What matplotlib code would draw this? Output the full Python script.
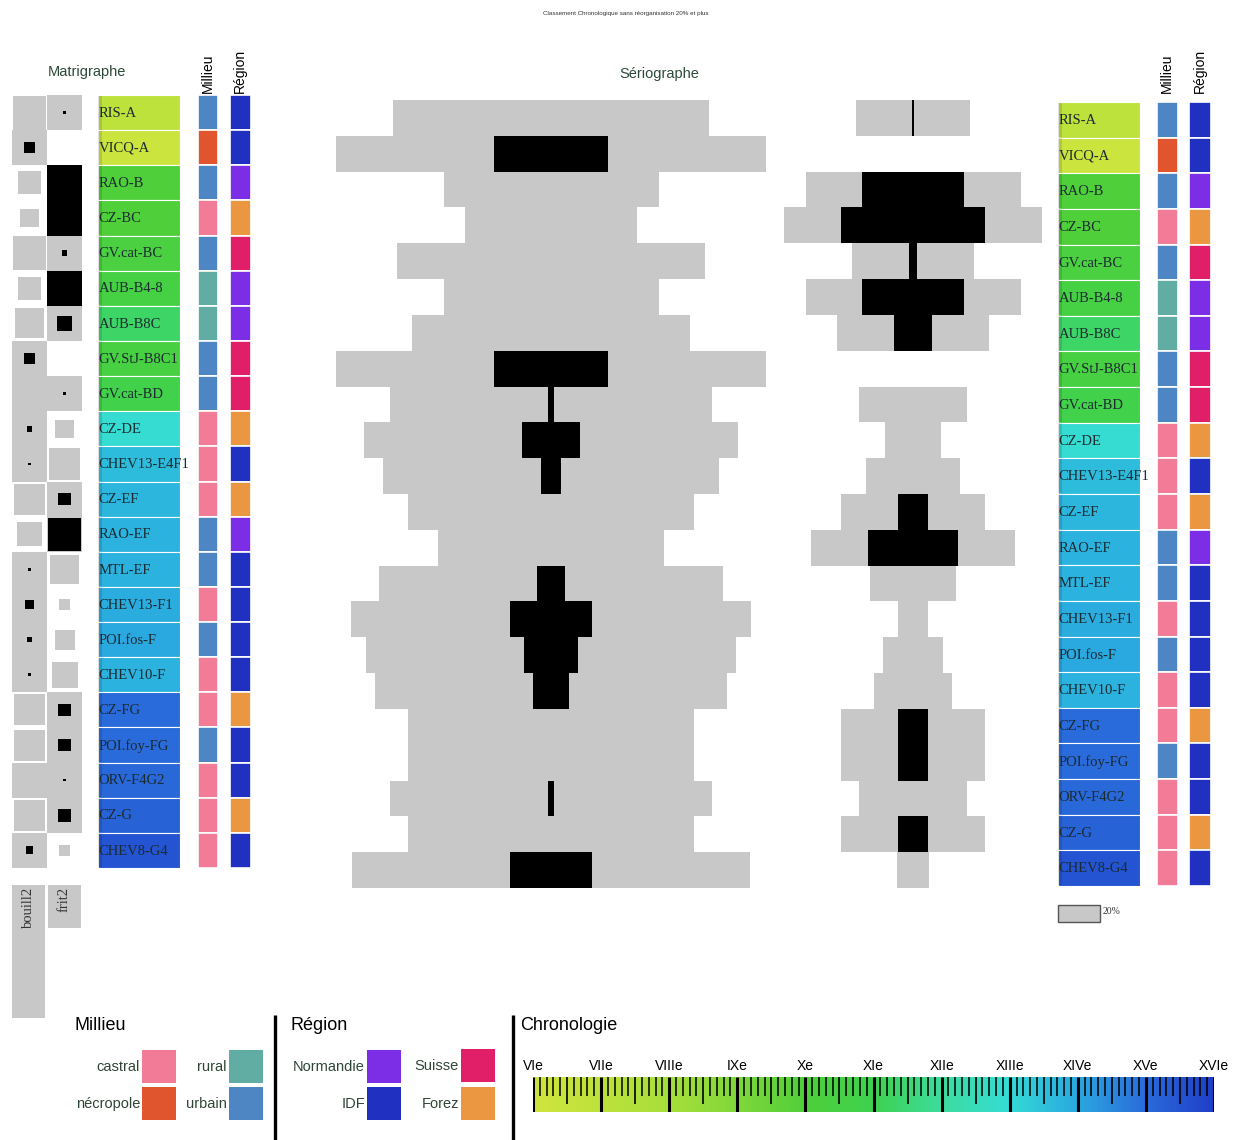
import numpy as np
import matplotlib.pyplot as plt
from matplotlib.patches import Rectangle
from matplotlib.colors import LinearSegmentedColormap, Normalize

# ---- data ----
ensembles = ["RIS-A", "VICQ-A", "RAO-B", "CZ-BC", "GV.cat-BC", "AUB-B4-8", "AUB-B8C",
             "GV.StJ-B8C1", "GV.cat-BD", "CZ-DE", "CHEV13-E4F1", "CZ-EF", "RAO-EF",
             "MTL-EF", "CHEV13-F1", "POI.fos-F", "CHEV10-F", "CZ-FG", "POI.foy-FG",
             "ORV-F4G2", "CZ-G", "CHEV8-G4"]
types = ["bouill2", "frit2"]

# pourcentages par ensemble
bouill2 = [73.3, 100, 50, 40, 71.6, 50, 64.7, 100, 75, 87.2, 78, 66.7, 52.4,
           80, 92.8, 86, 81.8, 66.7, 66.7, 75, 66.7, 92.6]
frit2 = [26.7, 0, 50, 60, 28.4, 50, 35.3, 0, 25, 12.8, 22, 33.3, 47.6,
         20, 7.2, 14, 18.2, 33.3, 33.3, 25, 33.3, 7.4]

# moyennes ponderees (matrigraphe)
ref_matrix = [75.5, 24.5]

milieu = ["urbain", "nécropole", "urbain", "castral", "urbain", "rural", "rural",
          "urbain", "urbain", "castral", "castral", "castral", "urbain", "urbain",
          "castral", "urbain", "castral", "castral", "urbain", "castral", "castral", "castral"]
region = ["IDF", "IDF", "Normandie", "Forez", "Suisse", "Normandie", "Normandie",
          "Suisse", "Suisse", "Forez", "IDF", "Forez", "Normandie", "IDF", "IDF",
          "IDF", "IDF", "Forez", "IDF", "IDF", "Forez", "IDF"]

# datation (siecle) de chaque ensemble
datation = [7.0, 6.2, 10.0, 10.0, 10.3, 10.5, 11.3, 10.4, 10.8, 12.9, 13.6, 13.7,
            13.8, 13.8, 13.9, 14.0, 13.8, 15.0, 15.0, 15.1, 15.2, 15.5]

milieu_colors = {"castral": "#f27c98", "nécropole": "#e0552e",
                 "rural": "#62ada3", "urbain": "#4d86c3"}
region_colors = {"Normandie": "#7b2ee6", "Suisse": "#e01f68",
                 "IDF": "#2030c0", "Forez": "#eb9641"}

siecles = ["VIe", "VIIe", "VIIIe", "IXe", "Xe", "XIe", "XIIe", "XIIIe", "XIVe", "XVe", "XVIe"]
chrono_pos = [6, 7, 8, 9, 10, 11, 12, 13, 14, 15, 16]
chrono_col = ['#cfe53e', '#bde23c', '#a6df3a', '#80d83a', '#4fcf3a', '#3ed250',
              '#3ddc9e', '#35dcd6', '#2aa8e0', '#2a6cdb', '#1f3fc8']

title = "Classement Chronologique sans réorganisation 20% et plus"

# ---- setup ----
W, H = 1237, 1140
fig = plt.figure(figsize=(W / 100, H / 100), dpi=100)
fig.patch.set_facecolor("white")

cmap = LinearSegmentedColormap.from_list(
    "chrono", [((p - 6) / 10, c) for p, c in zip(chrono_pos, chrono_col)])
norm = Normalize(6, 16)

SANS = "Liberation Sans"
SERIF = "Liberation Serif"
GRAY = "#c8c8c8"
n = len(ensembles)
rows = np.arange(n)


def px_axes(x0, y0, x1, y1):
    ax = fig.add_axes([x0 / W, 1 - y1 / H, (x1 - x0) / W, (y1 - y0) / H])
    ax.set_facecolor("none")
    ax.axis("off")
    return ax


bg = px_axes(0, 0, W, H)
bg.set_xlim(0, W)
bg.set_ylim(H, 0)

bg.text(626, 14, title, fontsize=4.5, ha="center", va="center", family=SANS, color="#333")
bg.text(87, 72, "Matrigraphe", fontsize=10.5, ha="center", va="center", family=SANS, color="#2e4a3a")
bg.text(659, 74, "Sériographe", fontsize=10.5, ha="center", va="center", family=SANS, color="#2e4a3a")
for x, lab in [(208, "Millieu"), (240, "Région"), (1167, "Millieu"), (1200, "Région")]:
    bg.text(x, 93, lab, fontsize=10, rotation=90, ha="center", va="bottom", family=SANS, color="black")

# ---- matrigraphe ----
mat = px_axes(12, 95, 82, 868)
mat.set_xlim(0, 2)
mat.set_ylim(n, 0)
values = [bouill2, frit2]
for j in range(2):
    for i in rows:
        r = values[j][i] / ref_matrix[j]
        if r >= 1:
            mat.add_patch(Rectangle((j, i), 1, 1, color=GRAY, lw=0))
            s = min(r - 1, 1)
            s = max(s, 0.07)
            mat.add_patch(Rectangle((j + (1 - s) / 2, i + (1 - s) / 2), s, s, color="black", lw=0))
        elif r > 0:
            mat.add_patch(Rectangle((j + (1 - r) / 2, i + (1 - r) / 2), r, r, color=GRAY, lw=0))

mass = px_axes(12, 885, 82, 1018)
mass.set_xlim(0, 2)
mass.set_ylim(max(ref_matrix), 0)
mass.bar([0.48, 1.5], ref_matrix, width=[0.94, 0.97], color=GRAY)
for k, t in enumerate(types):
    mass.text([0.48, 1.5][k], 1.0, t, rotation=90, ha="center", va="top",
              family=SERIF, fontsize=10.5, color="#333")


# ---- etiquettes ----
def label_panel(x0, y0, x1, y1):
    ax = px_axes(x0, y0, x1, y1)
    ax.set_xlim(0, 1)
    ax.set_ylim(n, 0)
    ax.barh(rows + 0.5, 1, height=1, color=cmap(norm(np.array(datation))),
            edgecolor="white", linewidth=0.8)
    ax.barh(rows + 0.5, 0.05, height=0.97, color="black", alpha=0.12, lw=0)
    for i, name in enumerate(ensembles):
        ax.text(0.01, i + 0.52, name, ha="left", va="center", family=SERIF,
                fontsize=10.5, color="#1c2b30", clip_on=False)


def code_panel(x0, y0, x1, y1, keys, colors):
    ax = px_axes(x0, y0, x1, y1)
    ax.set_xlim(0, 1)
    ax.set_ylim(n, 0)
    ax.barh(rows + 0.5, 1, height=1, color=[colors[k] for k in keys],
            edgecolor="white", linewidth=1.2)


label_panel(98, 95, 180, 868)
code_panel(198, 95, 218, 868, milieu, milieu_colors)
code_panel(230, 95, 251, 868, region, region_colors)

label_panel(1058, 102, 1140, 886)
code_panel(1157, 102, 1178, 886, milieu, milieu_colors)
code_panel(1189, 102, 1211, 886, region, region_colors)

# ---- seriographe ----
PX = 4.3  # pixels par %
ser = px_axes(320, 100, 1045, 888)
ser.set_xlim((320 - 551) / PX, (1045 - 551) / PX)
ser.set_ylim(n, 0)
centers = [0, (913 - 551) / PX]
for j in range(2):
    v = np.array(values[j])
    eppm = np.clip(v - v.mean(), 0, None)
    shown = np.where(eppm > 0, np.maximum(eppm, 0.6), 0)
    ser.barh(rows + 0.5, v, left=centers[j] - v / 2, height=1, color=GRAY, lw=0)
    ser.barh(rows + 0.5, shown, left=centers[j] - shown / 2, height=1, color="black", lw=0)

bg.add_patch(Rectangle((1058, 905), 42, 17, facecolor=GRAY, edgecolor="#555", lw=1))
bg.text(1103, 912, "20%", fontsize=7, family=SERIF, va="center", ha="left", color="#333")

# ---- legende ----
bg.text(75, 1026, "Millieu", fontsize=13, family=SANS, va="center", ha="left")
bg.text(290, 1026, "Région", fontsize=13, family=SANS, va="center", ha="left")
bg.text(520, 1026, "Chronologie", fontsize=13, family=SANS, va="center", ha="left")
for x in (275, 513):
    bg.plot([x, x], [1015, 1140], color="black", lw=2.4, solid_capstyle="butt")

leg_items = [("castral", milieu_colors, 142, 1050), ("nécropole", milieu_colors, 142, 1087),
             ("rural", milieu_colors, 229, 1050), ("urbain", milieu_colors, 229, 1087),
             ("Normandie", region_colors, 367, 1050), ("IDF", region_colors, 367, 1087),
             ("Suisse", region_colors, 461, 1049), ("Forez", region_colors, 461, 1087)]
for lab, cols, x, y in leg_items:
    bg.add_patch(Rectangle((x, y), 34, 33, color=cols[lab], lw=0))
    bg.text(x - 2, y + 17, lab, fontsize=10.5, family=SANS, ha="right", va="center", color="#2f4536")

chr_ax = px_axes(533, 1077, 1214, 1112)
chr_ax.set_xlim(6, 16)
chr_ax.set_ylim(0, 1)
chr_ax.imshow(np.linspace(6, 16, 600)[None, :], extent=(6, 16, 0, 1), cmap=cmap,
              norm=norm, aspect="auto")
for k in range(101):
    t = 6 + k / 10
    if k % 10 == 0:
        chr_ax.vlines(t, 0, 1, color="black", lw=2.2)
    elif k % 5 == 0:
        chr_ax.vlines(t, 0.22, 1, color="black", lw=1.2)
    else:
        chr_ax.vlines(t, 0.45, 1, color="black", lw=1.1)
for p, s in zip(chrono_pos, siecles):
    chr_ax.text(p, 1.32, s, ha="center", va="center", fontsize=10, family=SANS, clip_on=False)

fig.savefig("out.png", dpi=100)
